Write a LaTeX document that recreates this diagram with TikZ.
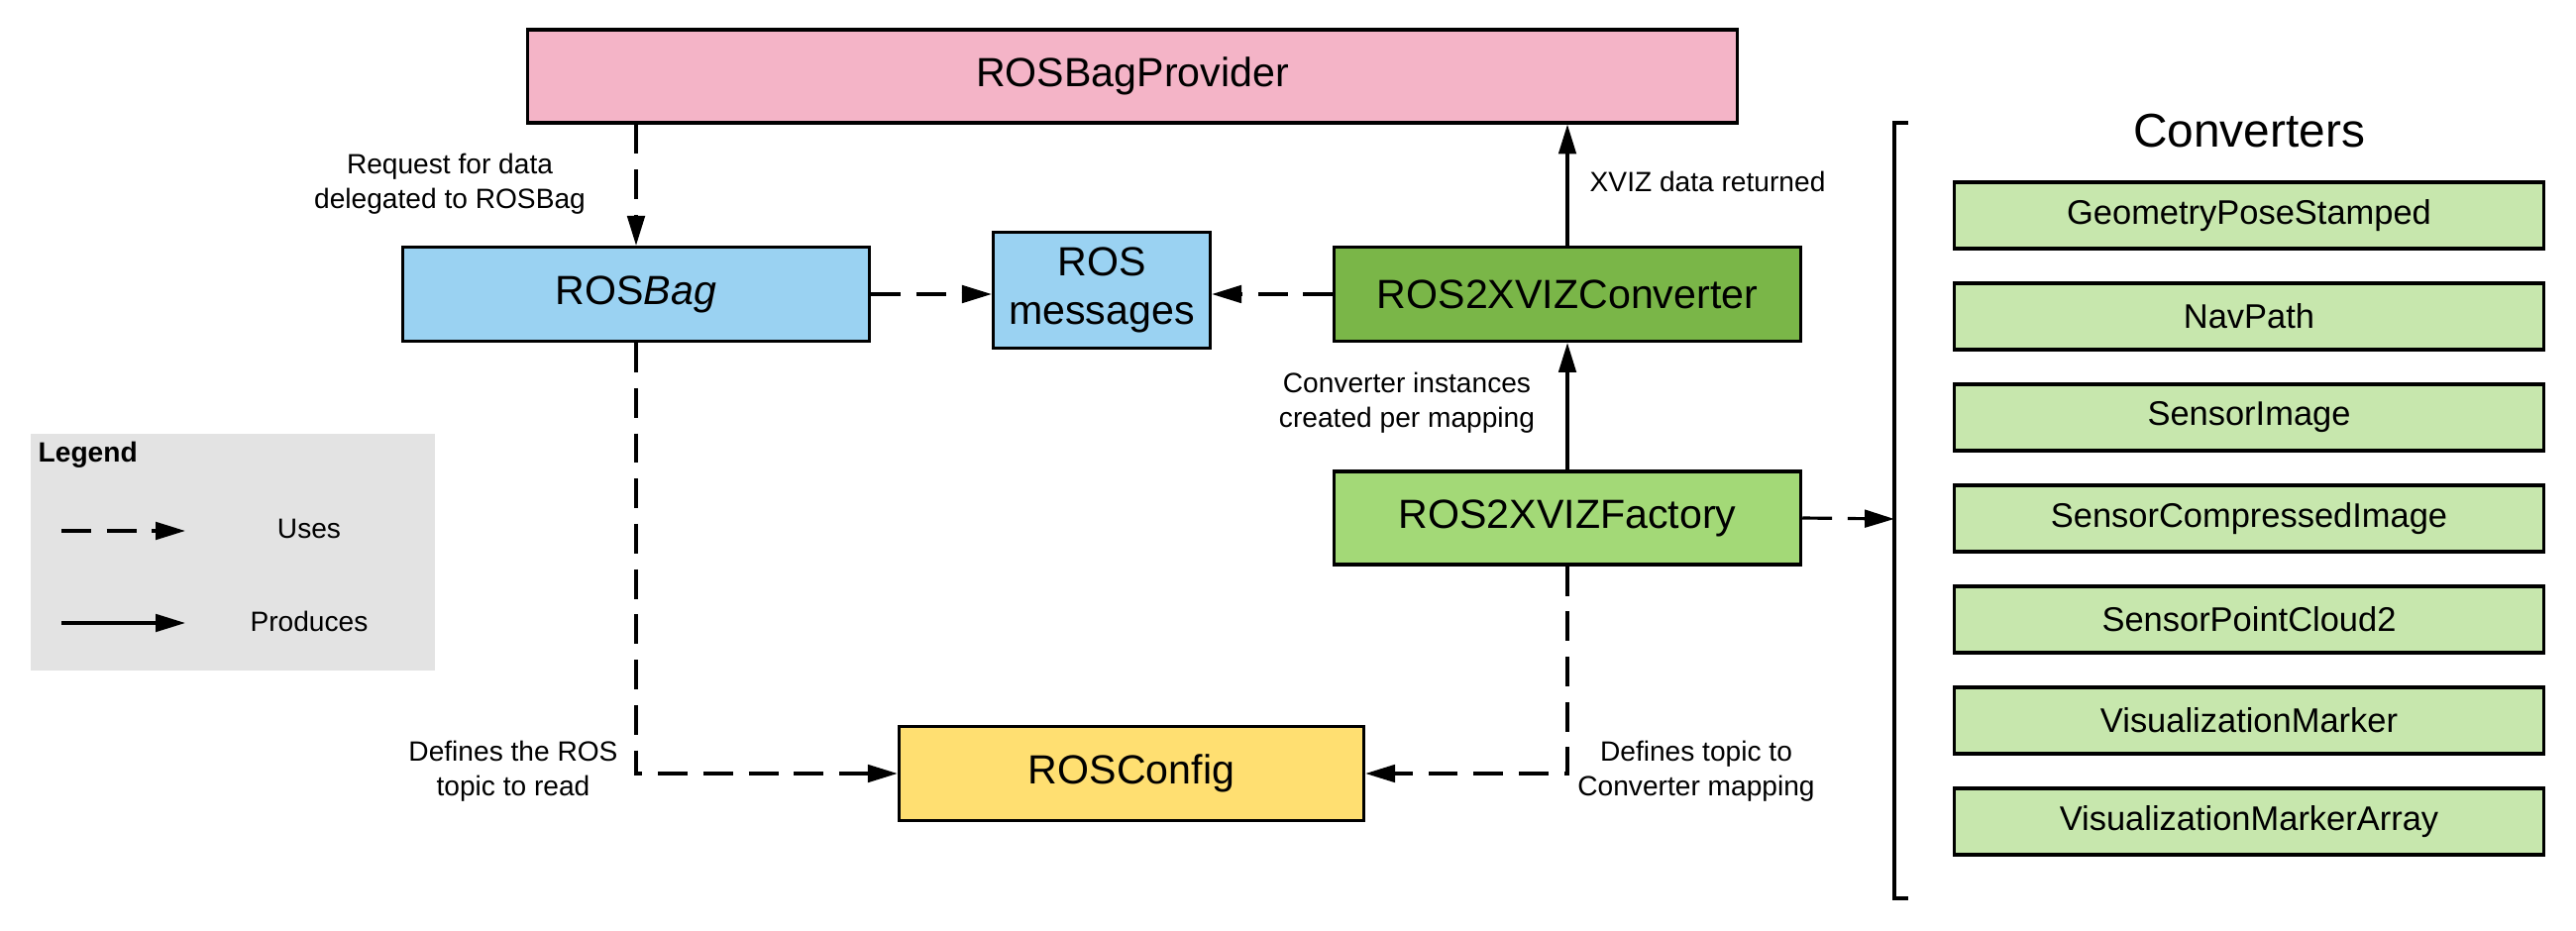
\documentclass[tikz,border=0pt]{standalone}
\usepackage{fontspec}
\setmainfont{Liberation Sans}
\usetikzlibrary{arrows.meta}

\definecolor{provpink}{HTML}{F4B4C7}
\definecolor{bagblue}{HTML}{9AD2F2}
\definecolor{convgreen}{HTML}{7AB648}
\definecolor{facgreen}{HTML}{A3D977}
\definecolor{listgreen}{HTML}{C7E7AD}
\definecolor{cfgyellow}{HTML}{FFDF71}
\definecolor{leggray}{HTML}{E3E3E3}

\tikzset{
  box/.style={draw,line width=0.9pt,inner sep=0pt,font=\fontsize{11.7}{14}\selectfont},
  convbox/.style={box,fill=listgreen,minimum width=5.95cm,minimum height=0.67cm,
    font=\fontsize{9.8}{11}\selectfont},
  lbl/.style={font=\fontsize{8}{10}\selectfont,align=center,inner sep=0pt},
  uses/.style={line width=0.9pt,dash pattern=on 8.5pt off 4.5pt,-{Triangle[length=8.5pt,width=5pt]}},
  prod/.style={line width=0.9pt,-{Triangle[length=8.5pt,width=5pt]}}
}

\begin{document}
\begin{tikzpicture}[x=0.01cm,y=-0.01cm]
	\useasboundingbox (0,0) rectangle (2600,940);

	% main boxes
	\node[box,fill=provpink,minimum width=12.21cm,minimum height=0.94cm] (prov) at (1143,77) {ROSBagProvider};
	\node[box,fill=bagblue,minimum width=4.71cm,minimum height=0.95cm] (bag) at (642,297) {ROS\textit{Bag}};
	\node[box,fill=bagblue,minimum width=2.19cm,minimum height=1.17cm,align=center] (msg) at (1112,293) {ROS\\messages};
	\node[box,fill=convgreen,minimum width=4.70cm,minimum height=0.95cm] (conv) at (1582,297) {ROS2XVIZConverter};
	\node[box,fill=facgreen,minimum width=4.71cm,minimum height=0.94cm] (fac) at (1582,523) {ROS2XVIZFactory};
	\node[box,fill=cfgyellow,minimum width=4.69cm,minimum height=0.95cm] (cfg) at (1142,781) {ROSConfig};

	% converter list
	\node[font=\fontsize{13.6}{16}\selectfont] (convtitle) at (2270,132) {Converters};
	\foreach \nm [count=\i] in {GeometryPoseStamped,NavPath,SensorImage,SensorCompressedImage,
		SensorPointCloud2,VisualizationMarker,VisualizationMarkerArray}
	{
		\node[convbox] (c\i) at (2270,{217.5+102*(\i-1)}) {\nm};
	}
	\draw[line width=1.35pt] (1926,124) -- (1912,124) -- (1912,907) -- (1926,907);
	\coordinate (brk) at (1912,524);

	% connectors
	\draw[uses] (bag |- prov.south) -- (bag.north);
	\draw[uses] (bag.east) -- (bag.east -| msg.west);
	\draw[uses] (conv.west) -- (conv.west -| msg.east);
	\draw[prod] (conv.north) -- (conv.north |- prov.south);
	\draw[prod] (fac.north) -- (conv.south);
	\draw[uses] (bag.south) |- (cfg.west);
	\draw[uses] (fac.south) |- (cfg.east);
	\draw[uses] (fac.east) -- (brk);

	% labels
	\node[lbl] (l1) at (454,186) {Request for data\\delegated to ROSBag};
	\node[lbl,anchor=west] (l2) at (1604,183) {XVIZ data returned};
	\node[lbl] (l3) at (1420,407) {Converter instances\\created per mapping};
	\node[lbl] (l4) at (518,779) {Defines the ROS\\topic to read};
	\node[lbl] (l5) at (1712,779) {Defines topic to\\Converter mapping};

	% legend
	\fill[leggray] (31,438) rectangle (439,677);
	\node[lbl,anchor=west,font=\bfseries\fontsize{8}{10}\selectfont] (legtitle) at (38,459) {Legend};
	\coordinate (u1) at (62,536);
	\coordinate (u2) at (187,536);
	\coordinate (p1) at (62,629);
	\coordinate (p2) at (187,629);
	\draw[uses] (u1) -- (u2);
	\draw[prod] (p1) -- (p2);
	\node[lbl] (leguses) at (312,534) {Uses};
	\node[lbl] (legprod) at (312,627) {Produces};
\end{tikzpicture}
\end{document}
